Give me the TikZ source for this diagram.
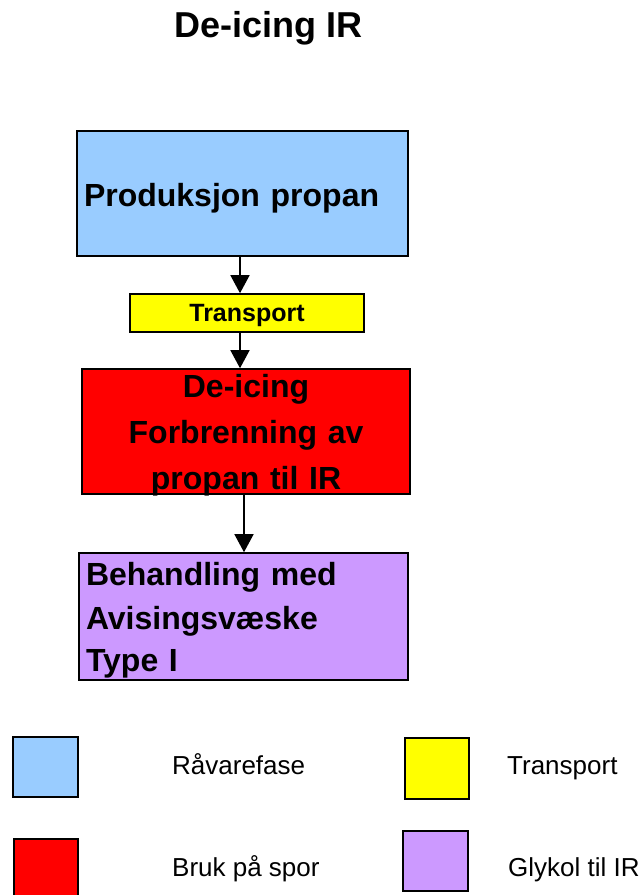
\documentclass[tikz,border=0pt]{standalone}
\usepackage{fontspec}
\setmainfont{Liberation Sans}
\usetikzlibrary{arrows.meta}
\definecolor{rawblue}{HTML}{99CCFF}
\definecolor{transyellow}{HTML}{FFFF00}
\definecolor{userred}{HTML}{FF0000}
\definecolor{glycolpurple}{HTML}{CC99FF}
% lower a line of text without changing the extent it reports
\newcommand{\dropline}[2][4pt]{\raisebox{-#1}[\height][\depth]{#2}}
\tikzset{
  flowbox/.style={draw=black, line width=1.6pt, rectangle, inner sep=0pt, inner xsep=7pt},
  bigtext/.style={font=\bfseries\fontsize{32}{44}\selectfont},
  flowarrow/.style={line width=1.5pt, -{Triangle[width=19pt,length=18pt]}},
  keybox/.style={draw=black, line width=1.6pt, rectangle, inner sep=0pt},
  keytext/.style={font=\fontsize{26}{30}\selectfont, anchor=base west, inner sep=0pt}
}
\begin{document}
\begin{tikzpicture}[x=1pt, y=-1pt]
\useasboundingbox (0,0) rectangle (644,895);

% title
\node[font=\bfseries\fontsize{36}{40}\selectfont, anchor=base, inner sep=0pt] (title) at (268.5,37) {De-icing IR};

% process chain
\node[flowbox, bigtext, fill=rawblue, minimum width=331pt, minimum height=125pt,
      text width=317pt, align=left] (prod) at (242.5,193.5) {\dropline[5pt]{Produksjon propan}};
\node[flowbox, fill=transyellow, minimum width=234pt, minimum height=38pt,
      font=\bfseries\fontsize{25}{28}\selectfont] (trans) at (247,313) {\dropline[2pt]{Transport}};
\node[flowbox, bigtext, fill=userred, minimum width=328pt, minimum height=125pt,
      text width=314pt, align=center, font=\bfseries\fontsize{32}{45}\selectfont] (burn) at (246,431.5)
      {\dropline[3pt]{De-icing}\\\dropline[4pt]{Forbrenning av}\\\dropline[5pt]{propan til IR}};
\node[flowbox, bigtext, fill=glycolpurple, minimum width=329pt, minimum height=127pt,
      text width=315pt, align=left] (glycol) at (243.5,616.5)
      {\dropline[5pt]{Behandling med}\\\dropline[5pt]{Avisingsvæske}\\\dropline[3pt]{Type I}};

\draw[flowarrow] ([xshift=-2.5pt]prod.south) -- ([xshift=-7pt]trans.north);
\draw[flowarrow] ([xshift=-7pt]trans.south) -- ([xshift=-6pt]burn.north);
\draw[flowarrow] ([xshift=-2pt]burn.south) -- ([xshift=0.5pt]glycol.north);

% legend
\node[keybox, fill=rawblue, minimum width=65pt, minimum height=60pt] (kraw) at (45.5,767) {};
\node[keytext] (lraw) at (172,774) {Råvarefase};
\node[keybox, fill=transyellow, minimum width=64pt, minimum height=61pt] (ktrans) at (437,768.5) {};
\node[keytext] (ltrans) at (507,774) {Transport};
\node[keybox, fill=userred, minimum width=64pt, minimum height=62pt] (kuse) at (46,870) {};
\node[keytext] (luse) at (172,876) {Bruk på spor};
\node[keybox, fill=glycolpurple, minimum width=65pt, minimum height=60pt] (kglyc) at (435.5,861) {};
\node[keytext] (lglyc) at (508,876) {Glykol til IR};
\end{tikzpicture}
\end{document}
